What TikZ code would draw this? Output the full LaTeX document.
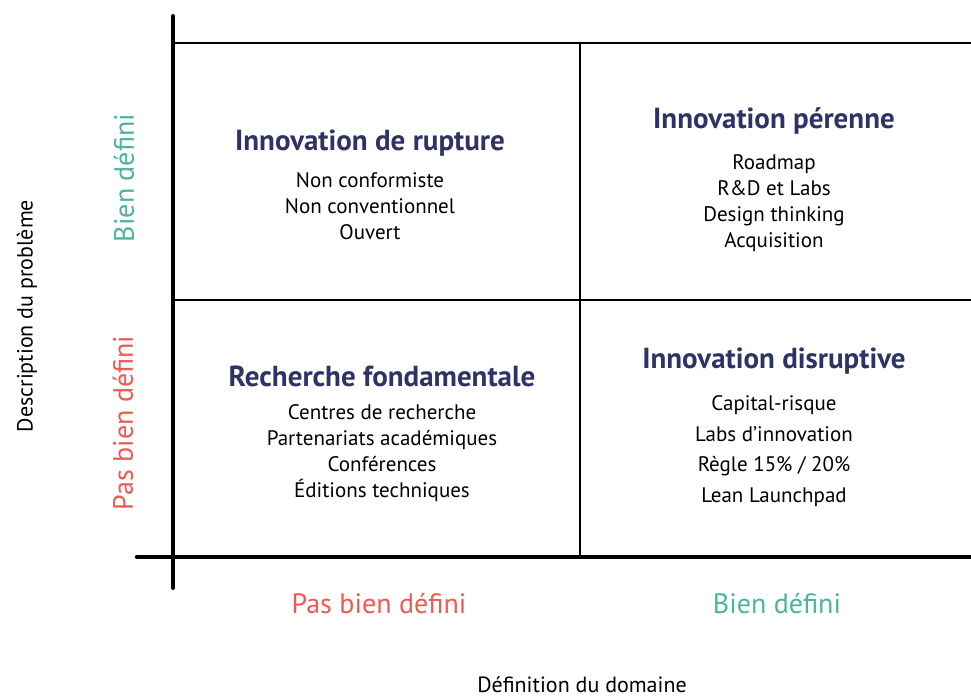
\documentclass[tikz,border=0pt]{standalone}
\usepackage{fontspec}
\setmainfont{PT Sans}
\definecolor{navy}{HTML}{2E3266}
\definecolor{okgreen}{HTML}{4BB59A}
\definecolor{badred}{HTML}{EE5A52}
\tikzset{
  title/.style={text=navy, font=\bfseries\fontsize{29}{32}\selectfont, inner sep=0pt},
  items/.style={align=center, font=\fontsize{21}{26}\selectfont, inner sep=0pt},
  axislabel/.style={font=\fontsize{22}{24}\selectfont, inner sep=0pt},
  greenlbl/.style={text=okgreen, font=\fontsize{28}{30}\selectfont, inner sep=0pt},
  redlbl/.style={text=badred, font=\fontsize{28}{30}\selectfont, inner sep=0pt},
  grid line/.style={line width=2.8pt, line cap=round},
  axis line/.style={line width=4pt, line cap=round},
}
\begin{document}
\begin{tikzpicture}[x=1pt,y=-1pt]
\useasboundingbox (0,0) rectangle (971,699);
% grid
\draw[grid line] (173,43) -- (971,43);
\draw[grid line] (173,300) -- (971,300);
\draw[grid line] (580,43) -- (580,557);
\draw[axis line] (173,16) -- (173,588);
\draw[axis line, line width=4.5pt] (137,557) -- (971,557);
% quadrant texts
\node[title] (t1) at (370,143) {Innovation de rupture};
\node[items] (i1) at (370,206) {Non conformiste\\Non conventionnel\\Ouvert};
\node[title] (t2) at (774,121) {Innovation pérenne};
\node[items] (i2) at (774,203) {Roadmap\\R\&D et Labs\\Design thinking\\Acquisition};
\node[title] (t3) at (382,376) {Recherche fondamentale};
\node[items] (i3) at (382,453) {Centres de recherche\\Partenariats académiques\\Conférences\\Éditions techniques};
\node[title] (t4) at (774,361) {Innovation disruptive};
\node[items, font=\fontsize{21}{30.7}\selectfont] (i4) at (774,451) {Capital-risque\\Labs d’innovation\\Règle 15\% / 20\%\\Lean Launchpad};
% axis labels
\node[greenlbl, rotate=90] (yb) at (124,178) {Bien défini};
\node[redlbl, rotate=90] (yp) at (123,423) {Pas bien défini};
\node[axislabel, rotate=90] (yd) at (27,316) {Description du problème};
\node[redlbl] (xp) at (379,604) {Pas bien défini};
\node[greenlbl] (xb) at (777,604) {Bien défini};
\node[axislabel] (xd) at (582,685) {Définition du domaine};
\end{tikzpicture}
\end{document}
